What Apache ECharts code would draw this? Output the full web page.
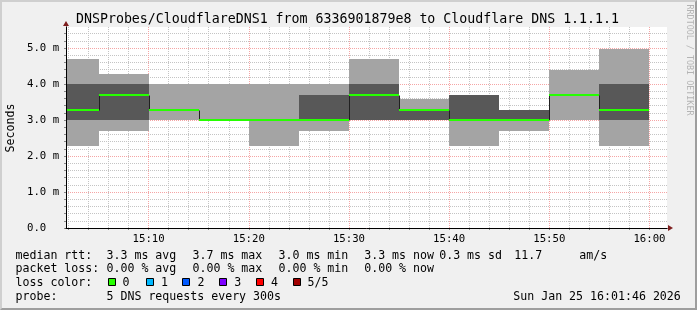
<!DOCTYPE html>
<html><head><meta charset="utf-8">
<script src="https://cdn.jsdelivr.net/npm/echarts@6/dist/echarts.min.js"></script>
<style>
html,body{margin:0;padding:0;background:#f0f0f0;}
#wrap{position:relative;width:697px;height:310px;}
#c{width:697px;height:310px;}
#frame{position:absolute;left:0;top:0;width:697px;height:310px;box-sizing:border-box;border-style:solid;border-width:2px;border-color:#cfcfcf #9e9e9e #9e9e9e #cfcfcf;pointer-events:none;}
</style></head><body>
<div id="wrap"><div id="c"></div><div id="frame"></div></div>
<script>
// ---- data (minutes after 15:00, values in ms) ----
const segStart = [0, 5, 10, 15, 20, 25, 30, 35, 40, 45, 50, 55];
const segEnd   = [5, 10, 15, 20, 25, 30, 35, 40, 45, 50, 55, 60];
const pingMin  = [2.29, 2.70, 3.00, 3.00, 2.29, 2.70, 3.00, 3.00, 2.29, 2.70, 3.00, 2.29];
const ping2    = [3.00, 3.00, 3.29, 3.00, 3.00, 3.00, 3.00, 3.00, 3.00, 3.00, 3.69, 3.00];
const median   = [3.28, 3.69, 3.28, 2.99, 2.99, 2.99, 3.69, 3.28, 2.99, 2.99, 3.69, 3.28];
const ping4    = [4.00, 4.00, 3.29, 3.00, 3.00, 3.69, 4.00, 3.29, 3.69, 3.29, 3.69, 4.00];
const pingMax  = [4.69, 4.28, 4.00, 4.00, 4.00, 4.00, 4.69, 3.57, 3.69, 3.29, 4.40, 4.97];

const xMin = 1.75, xMax = 61.75;           // 15:01:45 .. 16:01:45
const yMin = 0, yMax = 5.583;
const xMajorTicks = [10, 20, 30, 40, 50, 60];
const xTickLabels = ['15:10', '15:20', '15:30', '15:40', '15:50', '16:00'];
const xMinorTicks = [2, 4, 6, 8, 12, 14, 16, 18, 22, 24, 26, 28, 32, 34, 36, 38, 42, 44, 46, 48, 52, 54, 56, 58];
const yMajorTicks = [0, 1, 2, 3, 4, 5];
const yTickLabels = ['0.0', '1.0 m', '2.0 m', '3.0 m', '4.0 m', '5.0 m'];
const yMinorTicks = [0.2, 0.4, 0.6, 0.8, 1.2, 1.4, 1.6, 1.8, 2.2, 2.4, 2.6, 2.8, 3.2, 3.4, 3.6, 3.8, 4.2, 4.4, 4.6, 4.8, 5.2, 5.4];

const titleText = 'DNSProbes/CloudflareDNS1 from 6336901879e8 to Cloudflare DNS 1.1.1.1';
const yName = 'Seconds';
const watermark = 'RRDTOOL / TOBI OETIKER';
const legendRow1 = ['median rtt:', '3.3 ms avg', '3.7 ms max', '3.0 ms min', '3.3 ms now', '0.3 ms sd', '11.7', 'am/s'];
const legendRow2 = ['packet loss:', '0.00 % avg', '0.00 % max', '0.00 % min', '0.00 % now'];
const lossLabel = 'loss color:';
const lossNames = ['0', '1', '2', '3', '4', '5/5'];
const lossColors = ['#26ff00', '#00b8ff', '#0059ff', '#7e00ff', '#ff0000', '#a10000'];
const probeRow = ['probe:', '5 DNS requests every 300s'];
const dateText = 'Sun Jan 25 16:01:46 2026';

// ---- layout / style ----
const MONO = '"DejaVu Sans Mono", monospace';
const row1X = [15.5, 106.5, 192.5, 278.5, 364.2, 439.2, 514.2, 579.3];
const row2X = [15.5, 106.5, 192.5, 278.5, 364.2];
const boxX = [108.3, 145.7, 182.3, 219.3, 256.3, 293.3];
const lossTextX = [122.5, 160.9, 197.5, 234.2, 270.9, 307.5];
const rowY = [255.7, 269.4, 283.0, 296.7];

const chart = echarts.init(document.getElementById('c'), null, {renderer: 'canvas'});

function fontStr(size) { return 'normal ' + size + 'px ' + MONO; }

function snapRect(api, cs, x0, x1, v0, v1) {
  const a = api.coord([x0, v1]);
  const b = api.coord([x1, v0]);
  const l = Math.round(Math.max(a[0], cs.x)), r = Math.round(Math.min(b[0], cs.x + cs.width));
  const t = Math.round(a[1]), bt = Math.round(b[1]);
  if (r <= l || bt <= t) return null;
  return {x: l, y: t, width: r - l, height: bt - t};
}

function renderSmoke(params, api) {
  const cs = params.coordSys;
  const s = api.value(0), e = api.value(1);
  const children = [];
  const light = snapRect(api, cs, s, e, api.value(2), api.value(6));
  if (light) children.push({type: 'rect', shape: light, style: {fill: '#a4a4a4'}});
  const dark = snapRect(api, cs, s, e, api.value(3), api.value(5));
  if (dark) children.push({type: 'rect', shape: dark, style: {fill: '#585858'}});
  return {type: 'group', children: children};
}

function renderMedian(params, api) {
  const cs = params.coordSys;
  const i = params.dataIndex;
  const s = api.value(0), e = api.value(1), m = api.value(2);
  const children = [];
  const pS = api.coord([s, m]), pE = api.coord([e, m]);
  const xs = Math.max(pS[0], cs.x), xe = Math.min(pE[0], cs.x + cs.width);
  const xsr = Math.round(xs), xer = Math.round(xe);
  const ym = Math.round(pS[1]) + 0.5;
  const pts = [];
  if (i > 0 && pS[0] >= cs.x) {
    const prev = api.coord([s, median[i - 1]]);
    pts.push([xsr + 0.5, Math.round(prev[1]) + 0.5]);
    pts.push([xsr + 0.5, ym]);
  } else {
    pts.push([xsr, ym]);
  }
  pts.push([xer, ym]);
  children.push({type: 'polyline', shape: {points: pts}, style: {stroke: '#202020', lineWidth: 1, fill: null}});
  const top = Math.round(pS[1] - 1);
  children.push({type: 'rect', shape: {x: xsr, y: top, width: xer - xsr, height: 2}, style: {fill: lossColors[0]}});
  return {type: 'group', children: children};
}

const smokeData = segStart.map((s, i) => [s, segEnd[i], pingMin[i], ping2[i], median[i], ping4[i], pingMax[i]]);
const medianData = segStart.map((s, i) => [s, segEnd[i], median[i]]);

const graphics = [];
graphics.push({type: 'text', x: 347.5, y: 19.5, z: 10,
  style: {text: titleText, font: fontStr(13.27), fill: '#000', align: 'center', verticalAlign: 'middle', textAlign: 'center', textVerticalAlign: 'middle'}});
graphics.push({type: 'text', x: 11, y: 128, rotation: Math.PI / 2, z: 10,
  style: {text: yName, font: fontStr(11.6), fill: '#000', align: 'center', verticalAlign: 'middle', textAlign: 'center', textVerticalAlign: 'middle'}});
graphics.push({type: 'text', x: 689.5, y: 60, rotation: -Math.PI / 2, z: 10,
  style: {text: watermark, font: fontStr(8.4), fill: '#b4b4b4', align: 'center', verticalAlign: 'middle', textAlign: 'center', textVerticalAlign: 'middle'}});
function addText(t, x, y, align) {
  graphics.push({type: 'text', x: x, y: y, z: 10,
    style: {text: t, font: fontStr(11.6), fill: '#000', align: align || 'left', verticalAlign: 'middle', textAlign: align || 'left', textVerticalAlign: 'middle'}});
}
legendRow1.forEach((t, i) => addText(t, row1X[i], rowY[0]));
legendRow2.forEach((t, i) => addText(t, row2X[i], rowY[1]));
addText(lossLabel, 15.5, rowY[2]);
lossNames.forEach((t, i) => {
  graphics.push({type: 'rect', z: 10, shape: {x: Math.round(boxX[i]) + 0.5, y: 278.5, width: 7, height: 7},
    style: {fill: lossColors[i], stroke: '#000', lineWidth: 1}});
  addText(t, lossTextX[i], rowY[2]);
});
addText(probeRow[0], 15.5, rowY[3]);
addText(probeRow[1], 106.5, rowY[3]);
addText(dateText, 680.8, rowY[3], 'right');

const labelFont = {fontFamily: MONO, fontSize: 10.7, color: '#000'};

const option = {
  animation: false,
  backgroundColor: '#f0f0f0',
  grid: {left: 66, top: 27, width: 601, height: 201, show: true, backgroundColor: '#ffffff', borderWidth: 0,
         containLabel: false, outerBoundsMode: 'none'},
  xAxis: [
    { // major: labels + red grid
      type: 'value', min: xMin, max: xMax, position: 'bottom', z: 1,
      axisLine: {show: false, onZero: false},
      axisTick: {show: true, length: 2, lineStyle: {color: '#888'}, customValues: xMajorTicks},
      axisLabel: Object.assign({show: true, margin: 6, customValues: xMajorTicks,
        formatter: v => xTickLabels[xMajorTicks.indexOf(Math.round(v))] || ''}, labelFont),
      splitLine: {show: true, lineStyle: {color: '#f5a5a5', width: 1, type: [1, 1]}}
    },
    { // minor: grey grid + arrow
      type: 'value', min: xMin, max: xMax, position: 'bottom', z: 0,
      axisLine: {show: true, onZero: false, lineStyle: {color: '#7f1f1f', width: 1},
                 symbol: ['none', 'triangle'], symbolSize: [6, 5], symbolOffset: [0, 3.5]},
      axisTick: {show: true, length: 2, lineStyle: {color: '#888'}, customValues: xMinorTicks},
      axisLabel: {show: false},
      splitLine: {show: true, lineStyle: {color: '#c4c4c4', width: 1, type: [1, 1]}}
    },
    { // black axis line on top
      type: 'value', min: xMin, max: xMax, position: 'bottom', z: 5,
      axisLine: {show: true, onZero: false, lineStyle: {color: '#000', width: 1}},
      axisTick: {show: false}, axisLabel: {show: false}, splitLine: {show: false}
    }
  ],
  yAxis: [
    {
      type: 'value', min: yMin, max: yMax, position: 'left', z: 1,
      axisLine: {show: false, onZero: false},
      axisTick: {show: true, length: 2, lineStyle: {color: '#888'}, customValues: yMajorTicks},
      axisLabel: Object.assign({show: true, margin: 39, align: 'left', customValues: yMajorTicks,
        formatter: v => yTickLabels[yMajorTicks.indexOf(Math.round(v))] || ''}, labelFont),
      splitLine: {show: true, lineStyle: {color: '#f5a5a5', width: 1, type: [1, 1]}}
    },
    {
      type: 'value', min: yMin, max: yMax, position: 'left', z: 0,
      axisLine: {show: true, onZero: false, lineStyle: {color: '#7f1f1f', width: 1},
                 symbol: ['none', 'triangle'], symbolSize: [6, 5], symbolOffset: [0, 3.5]},
      axisTick: {show: true, length: 2, lineStyle: {color: '#888'}, customValues: yMinorTicks},
      axisLabel: {show: false},
      splitLine: {show: true, lineStyle: {color: '#c4c4c4', width: 1, type: [1, 1]}}
    },
    {
      type: 'value', min: yMin, max: yMax, position: 'left', z: 5,
      axisLine: {show: true, onZero: false, lineStyle: {color: '#000', width: 1}},
      axisTick: {show: false}, axisLabel: {show: false}, splitLine: {show: false}
    }
  ],
  series: [
    {type: 'custom', name: 'smoke', xAxisIndex: 0, yAxisIndex: 0, z: 2,
     renderItem: renderSmoke, data: smokeData, encode: {x: [0, 1], y: [2, 6]}, silent: true},
    {type: 'custom', name: 'median', xAxisIndex: 0, yAxisIndex: 0, z: 3,
     renderItem: renderMedian, data: medianData, encode: {x: [0, 1], y: 2}, silent: true}
  ],
  graphic: graphics
};
chart.setOption(option);
</script>
</body></html>
